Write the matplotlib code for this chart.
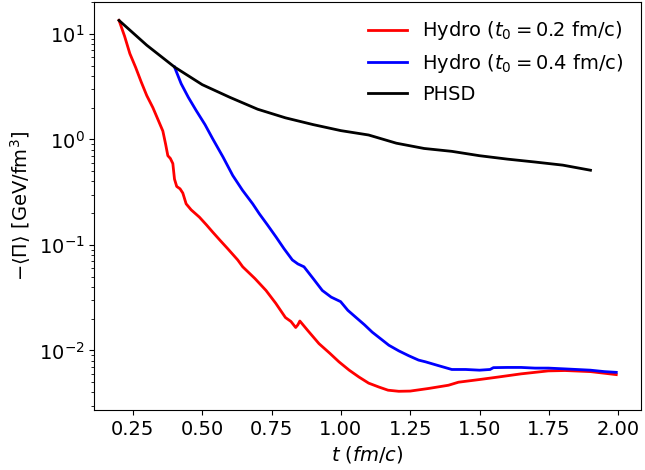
import numpy as np
import matplotlib
matplotlib.use('Agg')
import matplotlib.pyplot as plt

# PHSD
t_phsd = [0.2, 0.3, 0.4, 0.5, 0.6, 0.7, 0.8, 0.9, 1.0, 1.1, 1.2, 1.3, 1.4, 1.5, 1.6, 1.7, 1.8, 1.9]
pi_phsd = [13.4, 7.8, 4.85, 3.3, 2.5, 1.93, 1.6, 1.38, 1.21, 1.1, 0.92, 0.82, 0.77, 0.70, 0.65, 0.61, 0.57, 0.51]

# Hydro, t0 = 0.2 fm/c
t_h02 = [0.2, 0.22, 0.239, 0.26, 0.28, 0.30, 0.322, 0.34, 0.358, 0.368, 0.376, 0.385,
         0.394, 0.40, 0.408, 0.42, 0.43, 0.442, 0.46, 0.49, 0.515, 0.538, 0.565,
         0.592, 0.628, 0.646, 0.69, 0.73, 0.765, 0.80, 0.82, 0.837, 0.845, 0.852,
         0.88, 0.921, 0.96, 0.993, 1.03, 1.065, 1.10, 1.137, 1.17, 1.209, 1.25,
         1.316, 1.388, 1.424, 1.50, 1.568, 1.65, 1.748, 1.808, 1.90, 1.993]
pi_h02 = [13.4, 9.5, 6.5, 4.8, 3.5, 2.6, 2.0, 1.55, 1.2, 0.9, 0.70, 0.66,
          0.59, 0.42, 0.358, 0.34, 0.31, 0.245, 0.215, 0.183, 0.155, 0.132, 0.11,
          0.092, 0.072, 0.062, 0.048, 0.037, 0.028, 0.0205, 0.0188, 0.0165, 0.0175, 0.019,
          0.0155, 0.0116, 0.0094, 0.0078, 0.0065, 0.0056, 0.0049, 0.0045, 0.0042, 0.0041, 0.00412,
          0.00436, 0.00468, 0.0050, 0.0053, 0.0056, 0.0060, 0.0064, 0.00645, 0.0063, 0.0059]

# Hydro, t0 = 0.4 fm/c
t_h04 = [0.4, 0.424, 0.45, 0.478, 0.51, 0.538, 0.575, 0.61, 0.645, 0.682, 0.706,
         0.735, 0.766, 0.795, 0.825, 0.845, 0.867, 0.90, 0.933, 0.965, 0.999,
         1.025, 1.053, 1.085, 1.113, 1.145, 1.173, 1.209, 1.245, 1.28, 1.305,
         1.35, 1.40, 1.45, 1.50, 1.538, 1.55, 1.60, 1.65, 1.70, 1.748, 1.80,
         1.85, 1.90, 1.95, 1.993]
pi_h04 = [4.85, 3.37, 2.5, 1.88, 1.38, 1.01, 0.68, 0.455, 0.33, 0.245, 0.197,
          0.155, 0.119, 0.092, 0.072, 0.066, 0.062, 0.048, 0.037, 0.032, 0.029,
          0.024, 0.0207, 0.0175, 0.0149, 0.0128, 0.0112, 0.0099, 0.0089, 0.0081, 0.0078,
          0.0072, 0.0066, 0.0066, 0.0065, 0.0066, 0.00687, 0.0069, 0.0069, 0.0068, 0.0068, 0.0067,
          0.0066, 0.0065, 0.0063, 0.0062]

fig, ax = plt.subplots(figsize=(6.45, 4.7), dpi=100)
fig.subplots_adjust(left=0.146, right=0.994, bottom=0.128, top=0.996)

ax.plot(t_h02, pi_h02, color='red', linewidth=2, label=r'Hydro ($t_0 = 0.2$ fm/c)')
ax.plot(t_h04, pi_h04, color='blue', linewidth=2, label=r'Hydro ($t_0 = 0.4$ fm/c)')
ax.plot(t_phsd, pi_phsd, color='black', linewidth=2, label='PHSD')

ax.set_yscale('log')
ax.set_xticks([0.25, 0.5, 0.75, 1.0, 1.25, 1.5, 1.75, 2.0])
ax.tick_params(labelsize=14)
ax.set_xlabel(r'$t$ ($fm/c$)', fontsize=14)
ax.set_ylabel(r'$-\langle\Pi\rangle$ [GeV/fm$^3$]', fontsize=14)
ax.legend(loc='upper right', frameon=False, fontsize=14)

plt.savefig('out.png', dpi=100)
